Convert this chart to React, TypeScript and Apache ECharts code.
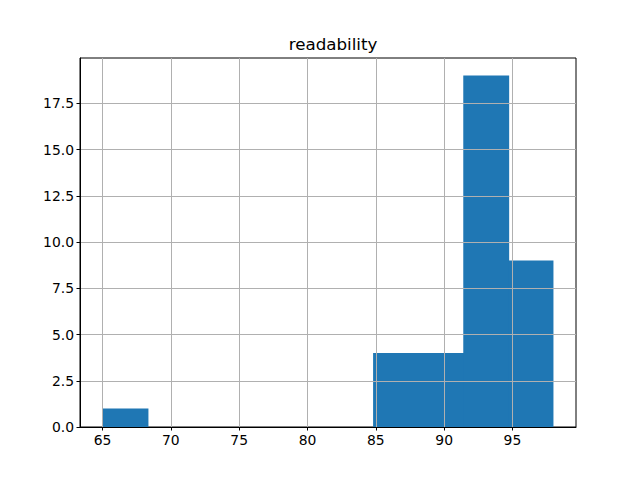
import React, { useEffect, useRef } from "react";
import * as echarts from "echarts";

const binEdges = [65, 68.3, 71.6, 74.9, 78.2, 81.5, 84.8, 88.1, 91.4, 94.7, 98.0];
const counts = [1, 0, 0, 0, 0, 0, 4, 4, 19, 9];
const xTicks = [65, 70, 75, 80, 85, 90, 95];
const yTicks = [0, 2.5, 5, 7.5, 10, 12.5, 15, 17.5];
const title = "readability";

export default function App() {
  const ref = useRef<HTMLDivElement>(null);
  useEffect(() => {
    document.body.style.margin = "0";
    const chart = echarts.init(ref.current!, null, { renderer: "svg" });
    const data = counts.map((c, i) => [binEdges[i], binEdges[i + 1], c]);
    const font = "DejaVu Sans";
    chart.setOption({
      animation: false,
      title: {
        text: title,
        left: 328,
        textAlign: "center",
        top: 30,
        textStyle: { fontFamily: font, fontSize: 16.7, fontWeight: "normal", color: "#000" },
      },
      grid: {
        left: 80,
        right: 64,
        top: 58,
        bottom: 53,
        show: true,
        borderColor: "#000",
        borderWidth: 1,
        backgroundColor: "transparent",
      },
      xAxis: {
        type: "value",
        min: 63.35,
        max: 99.65,
        z: 10,
        axisLine: { show: true, onZero: false, lineStyle: { color: "#000", width: 1 } },
        axisTick: { show: true, length: 3.5, lineStyle: { color: "#000" }, customValues: xTicks },
        axisLabel: {
          customValues: xTicks,
          fontFamily: font,
          fontSize: 13.9,
          color: "#000",
          margin: 6,
          showMinLabel: true,
          showMaxLabel: true,
        },
        splitLine: { show: true, lineStyle: { color: "#b0b0b0", width: 1 } },
      },
      yAxis: {
        type: "value",
        min: 0,
        max: 19.95,
        interval: 2.5,
        z: 10,
        axisLine: { show: true, lineStyle: { color: "#000", width: 1 } },
        axisTick: { show: true, length: 3.5, lineStyle: { color: "#000" }, customValues: yTicks },
        axisLabel: {
          customValues: yTicks,
          fontFamily: font,
          fontSize: 13.9,
          color: "#000",
          margin: 6,
          formatter: (v: number) => v.toFixed(1),
        },
        splitLine: { show: true, lineStyle: { color: "#b0b0b0", width: 1 } },
      },
      series: [
        {
          type: "custom",
          z: 2,
          encode: { x: [0, 1], y: 2 },
          itemStyle: { borderWidth: 0 },
          data,
          renderItem: (params: any, api: any) => {
            const x0 = api.value(0);
            const x1 = api.value(1);
            const c = api.value(2);
            if (!c) return null;
            const p0 = api.coord([x0, 0]);
            const p1 = api.coord([x1, c]);
            const last = params.dataIndex === counts.length - 1;
            return {
              type: "rect",
              shape: {
                x: p0[0],
                y: p1[1],
                width: p1[0] - p0[0] + (last ? 0 : 0.8),
                height: p0[1] - p1[1],
              },
              style: { fill: "#1f77b4", stroke: null, lineWidth: 0 },
            };
          },
        },
      ],
    });
    return () => chart.dispose();
  }, []);
  return <div ref={ref} style={{ width: 640, height: 480 }} />;
}
